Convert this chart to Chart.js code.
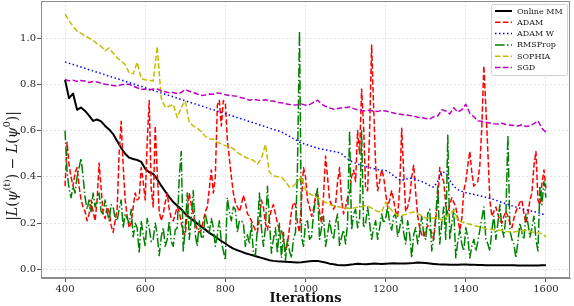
<!DOCTYPE html>
<html><head><meta charset="utf-8">
<script src="https://cdn.jsdelivr.net/npm/chart.js@4.4.1/dist/chart.umd.min.js"></script>
<style>html,body{margin:0;padding:0;background:#fff;overflow:hidden}</style>
</head><body><canvas id="c" width="574" height="306"></canvas>
<script>
// ---------- data ----------
const seriesNames = ['Online MM', 'ADAM', 'ADAM W', 'RMSProp', 'SOPHIA', 'SGD'];
const xTicks = [400, 600, 800, 1000, 1200, 1400, 1600];
const yTicks = [0.0, 0.2, 0.4, 0.6, 0.8, 1.0];
// iterations: coarse grid (step 10) and fine grid (step 5)
const itersCoarse = Array.from({length: 121}, (_, i) => 400 + 10 * i);
const itersFine = Array.from({length: 241}, (_, i) => 400 + 5 * i);

const onlineMM = [
 .82,.74,.76,.69,.70,.685,.665,.642,.648,.64,
 .62,.605,.585,.555,.525,.50,.483,.477,.473,.465,
 .435,.42,.413,.39,.362,.337,.313,.291,.275,.26,
 .24,.225,.212,.198,.185,.172,.158,.147,.135,.123,
 .112,.10,.09,.083,.077,.07,.065,.06,.055,.05,
 .045,.04,.037,.035,.034,.033,.032,.031,.030,.031,
 .033,.035,.036,.037,.033,.030,.025,.022,.019,.018,
 .018,.02,.022,.025,.023,.022,.024,.026,.025,.024,
 .025,.026,.027,.026,.026,.026,.027,.028,.030,.029,
 .028,.026,.024,.022,.021,.021,.020,.020,.020,.021,
 .021,.020,.020,.019,.019,.018,.018,.018,.018,.018,
 .018,.018,.018,.017,.017,.017,.017,.017,.017,.018,
 .018];
const adamW = [
 .897,.891,.886,.880,.875,.869,.863,.858,.852,.847,
 .841,.835,.830,.824,.819,.813,.807,.802,.796,.791,
 .785,.779,.774,.768,.763,.757,.751,.746,.740,.735,
 .729,.723,.718,.712,.707,.701,.695,.690,.684,.679,
 .673,.667,.662,.656,.651,.645,.639,.634,.628,.622,
 .617,.611,.605,.600,.594,.585,.575,.565,.556,.545,
 .542,.535,.530,.524,.520,.516,.513,.510,.507,.500,
 .485,.472,.462,.455,.450,.445,.440,.436,.432,.429,
 .427,.418,.405,.392,.384,.390,.394,.393,.386,.380,
 .372,.362,.355,.380,.420,.420,.385,.360,.345,.338,
 .332,.328,.324,.320,.316,.312,.307,.302,.296,.290,
 .284,.278,.272,.267,.262,.258,.254,.250,.246,.240,
 .233];
const sophia = [
 1.103,1.075,1.05,1.03,1.02,1.01,1.0,.99,.975,.965,
 .945,.957,.935,.915,.90,.885,.85,.845,.895,.825,
 .82,.818,.814,.964,.74,.70,.705,.714,.656,.70,
 .728,.635,.62,.61,.595,.575,.565,.563,.55,.542,
 .535,.53,.522,.505,.495,.485,.477,.472,.455,.48,
 .54,.42,.405,.40,.398,.38,.355,.36,.38,.40,
 .345,.327,.318,.31,.30,.29,.28,.276,.272,.268,
 .265,.262,.265,.27,.272,.276,.27,.26,.25,.248,
 .29,.265,.245,.235,.233,.238,.245,.248,.24,.233,
 .222,.219,.222,.226,.212,.225,.24,.255,.215,.205,
 .20,.195,.19,.186,.182,.176,.174,.172,.17,.168,
 .165,.163,.162,.165,.168,.169,.165,.16,.158,.155,
 .14];
const sgd = [
 .821,.815,.818,.812,.816,.814,.808,.812,.81,.805,
 .80,.798,.795,.792,.798,.80,.80,.792,.785,.778,
 .78,.775,.78,.78,.772,.768,.763,.765,.76,.765,
 .778,.77,.765,.758,.752,.754,.758,.757,.763,.76,
 .755,.752,.75,.748,.742,.738,.731,.736,.732,.731,
 .733,.728,.728,.722,.72,.716,.713,.711,.712,.715,
 .71,.712,.722,.731,.715,.705,.698,.692,.695,.698,
 .70,.702,.695,.69,.687,.685,.688,.684,.683,.686,
 .685,.68,.676,.672,.67,.668,.665,.663,.658,.656,
 .652,.649,.66,.663,.69,.685,.672,.699,.68,.69,
 .714,.675,.66,.642,.64,.636,.633,.63,.628,.632,
 .626,.624,.622,.62,.625,.618,.62,.63,.642,.61,
 .592];
const rmsprop = [
 .60,.42,.35,.31,.36,.33,.40,.44,.48,.40,
 .31,.26,.30,.25,.33,.27,.30,.33,.25,.24,
 .30,.25,.21,.28,.27,.22,.21,.26,.30,.18,
 .24,.22,.20,.26,.14,.20,.18,.07,.21,.15,
 .10,.22,.18,.12,.13,.20,.15,.06,.14,.18,
 .10,.13,.21,.12,.10,.17,.18,.40,.51,.08,
 .18,.33,.13,.22,.34,.15,.10,.21,.14,.14,
 .24,.20,.16,.22,.18,.10,.15,.21,.12,.08,
 .04,.31,.25,.21,.27,.26,.16,.21,.21,.20,
 .10,.15,.11,.20,.07,.06,.18,.33,.18,.10,
 .18,.36,.21,.07,.13,.18,.07,.20,.05,.16,
 .04,.13,.08,.05,.13,.16,.44,1.03,.14,.10,
 .20,.21,.13,.14,.24,.30,.35,.13,.18,.23,
 .10,.15,.21,.16,.13,.20,.24,.10,.14,.17,
 .11,.20,.60,.17,.24,.26,.18,.22,.60,.18,
 .20,.27,.20,.13,.18,.21,.13,.18,.24,.20,
 .22,.27,.20,.17,.23,.24,.14,.18,.23,.16,
 .11,.21,.15,.05,.15,.18,.11,.16,.23,.15,
 .13,.24,.26,.08,.14,.23,.36,.11,.20,.27,
 .13,.58,.13,.20,.26,.05,.12,.17,.11,.08,
 .18,.14,.05,.10,.13,.08,.12,.17,.22,.27,
 .13,.11,.08,.17,.23,.13,.20,.28,.18,.14,
 .23,.58,.17,.13,.11,.05,.12,.20,.16,.13,
 .24,.20,.14,.18,.23,.13,.08,.36,.28,.38,
 .31];
const adam = [
 .36,.55,.45,.40,.36,.42,.44,.36,.30,.27,
 .25,.21,.24,.30,.25,.21,.30,.46,.35,.24,
 .22,.27,.25,.19,.16,.21,.26,.50,.64,.45,
 .30,.23,.18,.20,.27,.33,.30,.31,.44,.38,
 .30,.55,.73,.35,.27,.62,.42,.25,.21,.24,
 .29,.33,.26,.22,.21,.24,.27,.25,.20,.16,
 .15,.24,.33,.28,.24,.20,.17,.16,.17,.21,
 .25,.27,.35,.43,.33,.40,.71,.73,.62,.73,
 .72,.56,.48,.40,.33,.29,.27,.25,.28,.32,
 .29,.24,.23,.21,.19,.17,.16,.22,.30,.27,
 .20,.17,.22,.26,.28,.24,.20,.17,.17,.13,
 .08,.11,.18,.25,.29,.28,.20,.16,.30,.44,
 .40,.30,.27,.23,.26,.32,.34,.25,.20,.32,
 .49,.40,.30,.28,.26,.28,.38,.44,.30,.24,
 .27,.31,.33,.40,.43,.38,.60,.50,.78,.62,
 .35,.34,.60,.97,.70,.45,.34,.38,.43,.40,
 .33,.27,.30,.34,.30,.25,.23,.35,.61,.42,
 .25,.27,.31,.40,.45,.33,.23,.18,.15,.14,
 .17,.19,.17,.16,.13,.22,.30,.44,.40,.38,
 .28,.24,.28,.31,.29,.27,.22,.17,.22,.34,
 .38,.45,.51,.42,.36,.37,.38,.45,.62,.88,
 .70,.51,.30,.23,.25,.27,.24,.21,.20,.23,
 .25,.23,.20,.18,.22,.25,.27,.29,.30,.24,
 .20,.24,.30,.33,.45,.51,.30,.28,.37,.43,
 .35];

// ---------- build ----------
const serif = "'DejaVu Serif', 'Liberation Serif', serif";
const pts = (xs, ys) => xs.map((x, i) => ({x: x, y: ys[i]}));
const styles = [
  {c: '#000000', w: 2.0, d: []},
  {c: '#ff0000', w: 1.5, d: [5.5, 2.4]},
  {c: '#0000ff', w: 1.5, d: [1.5, 2.5]},
  {c: '#008000', w: 1.5, d: [9.6, 2.4, 1.5, 2.4]},
  {c: '#bfbf00', w: 1.5, d: [5.5, 2.4]},
  {c: '#bf00bf', w: 1.5, d: [5.5, 2.4]}
];
const seriesData = [
  pts(itersCoarse, onlineMM), pts(itersFine, adam), pts(itersCoarse, adamW),
  pts(itersFine, rmsprop), pts(itersCoarse, sophia), pts(itersCoarse, sgd)
];
const datasets = seriesNames.map((n, i) => ({
  label: n, data: seriesData[i], borderColor: styles[i].c, backgroundColor: styles[i].c,
  borderWidth: styles[i].w, borderDash: styles[i].d, pointRadius: 0, tension: 0,
  fill: false, order: seriesNames.length - i, borderCapStyle: 'butt', borderJoinStyle: 'round'
}));

const framePlugin = {
  id: 'frame',
  afterDatasetsDraw(chart) {
    const a = chart.chartArea, ctx = chart.ctx;
    ctx.save();
    ctx.strokeStyle = '#8c8c8c'; ctx.lineWidth = 1;
    ctx.strokeRect(Math.round(a.left) + 0.5, Math.round(a.top) + 0.5,
      Math.round(a.right - a.left) - 1, Math.round(a.bottom - a.top) - 1);
    ctx.restore();
  }
};

const legendPlugin = {
  id: 'mplLegend',
  afterDraw(chart) {
    const ctx = chart.ctx;
    const bx = 491, by = 4, bw = 76, bh = 71;
    ctx.save();
    ctx.fillStyle = 'rgba(255,255,255,0.85)';
    ctx.strokeStyle = '#d0d0d0'; ctx.lineWidth = 1;
    ctx.beginPath();
    if (ctx.roundRect) ctx.roundRect(bx + 0.5, by + 0.5, bw, bh, 2); else ctx.rect(bx + 0.5, by + 0.5, bw, bh);
    ctx.fill(); ctx.stroke();
    ctx.font = '8px ' + serif;
    ctx.textBaseline = 'middle';
    ctx.fillStyle = '#1a1a1a';
    chart.data.datasets.forEach((ds, i) => {
      const y = 11 + i * 11.3;
      ctx.save();
      ctx.strokeStyle = ds.borderColor; ctx.lineWidth = ds.borderWidth;
      ctx.setLineDash(ds.borderDash || []);
      ctx.beginPath(); ctx.moveTo(495, y); ctx.lineTo(512, y); ctx.stroke();
      ctx.restore();
      ctx.fillText(ds.label, 517, y + 0.5);
    });
    ctx.restore();
  }
};

const yTitlePlugin = {
  id: 'yTitle',
  afterDraw(chart) {
    const ctx = chart.ctx;
    const size = 14, sup = 9.5;
    const parts = [
      {t: '|', s: 'normal', sz: size}, {t: 'L', s: 'italic', sz: size}, {t: '(', s: 'normal', sz: size},
      {t: 'ψ', s: 'italic', sz: size}, {t: '(t)', s: 'normal', sz: sup, up: 5}, {t: ')', s: 'normal', sz: size},
      {t: ' − ', s: 'normal', sz: size}, {t: 'L', s: 'italic', sz: size}, {t: '(', s: 'normal', sz: size},
      {t: 'ψ', s: 'italic', sz: size}, {t: '0', s: 'normal', sz: sup, up: 5}, {t: ')', s: 'normal', sz: size},
      {t: '|', s: 'normal', sz: size}
    ];
    ctx.save();
    let total = 0;
    parts.forEach(p => { ctx.font = p.s + ' ' + p.sz + 'px ' + serif; p.w = ctx.measureText(p.t).width; total += p.w; });
    ctx.translate(13, 166);
    ctx.rotate(-Math.PI / 2);
    ctx.fillStyle = '#1a1a1a';
    ctx.textBaseline = 'middle';
    let x = -total / 2;
    parts.forEach(p => {
      ctx.font = p.s + ' ' + p.sz + 'px ' + serif;
      ctx.fillText(p.t, x, p.up ? -p.up : 0);
      x += p.w;
    });
    ctx.restore();
  }
};

const noPad = s => { s.paddingTop = 0; s.paddingBottom = 0; s.paddingLeft = 0; s.paddingRight = 0; };

new Chart(document.getElementById('c'), {
  type: 'line',
  data: {datasets: datasets},
  options: {
    responsive: false, animation: false, devicePixelRatio: 1,
    layout: {padding: {left: 0, right: 4, top: 1, bottom: 0}},
    plugins: {legend: {display: false}, tooltip: {enabled: false}},
    scales: {
      x: {
        type: 'linear', min: 340, max: 1660,
        afterBuildTicks: s => { s.ticks = xTicks.map(v => ({value: v})); },
        afterFit: s => { s.height = 28; noPad(s); },
        ticks: {font: {family: serif, size: 10}, color: '#262626', padding: 1, maxRotation: 0, autoSkip: false,
                callback: v => String(v)},
        grid: {color: '#dedede', lineWidth: 0.8, tickLength: 4, tickColor: '#555', tickWidth: 1, tickBorderDash: []},
        border: {display: true, color: '#8c8c8c', width: 1, dash: [2, 2]},
        title: {display: true, text: 'Iterations', font: {family: serif, size: 13, weight: 'bold'},
                color: '#111', padding: {top: 0, bottom: 0}}
      },
      y: {
        type: 'linear', min: -0.037, max: 1.16,
        afterBuildTicks: s => { s.ticks = yTicks.map(v => ({value: v})); },
        afterFit: s => { s.width = 41; noPad(s); },
        ticks: {font: {family: serif, size: 10}, color: '#262626', padding: 1, callback: v => Number(v).toFixed(1)},
        grid: {color: '#dedede', lineWidth: 0.8, tickLength: 4, tickColor: '#555', tickWidth: 1, tickBorderDash: []},
        border: {display: true, color: '#8c8c8c', width: 1, dash: [2, 2]}
      }
    }
  },
  plugins: [framePlugin, legendPlugin, yTitlePlugin]
});
</script>
</body></html>
